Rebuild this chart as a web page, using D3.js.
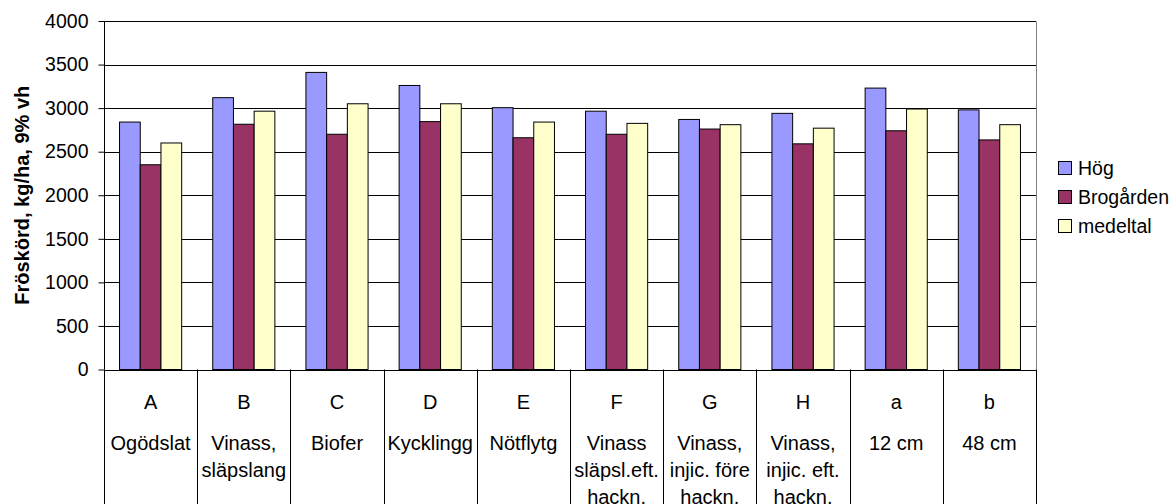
<!DOCTYPE html>
<html>
<head>
<meta charset="utf-8">
<script src="https://cdn.jsdelivr.net/npm/d3@7"></script>
<style>
  html, body { margin: 0; padding: 0; background: #fff; }
  svg { display: block; font-family: "Liberation Sans", Arial, sans-serif; }
</style>
</head>
<body>
<svg id="chart" width="1173" height="504"></svg>
<script>
// Treatment codes and their descriptions (one row per text line)
const codes = ["A", "B", "C", "D", "E", "F", "G", "H", "a", "b"];
const descriptions = [
  ["Ogödslat"],
  ["Vinass,", "släpslang"],
  ["Biofer"],
  ["Kycklingg"],
  ["Nötflytg"],
  ["Vinass", "släpsl.eft.", "hackn."],
  ["Vinass,", "injic. före", "hackn."],
  ["Vinass,", "injic. eft.", "hackn."],
  ["12 cm"],
  ["48 cm"]
];
const seriesNames = ["Hög", "Brogården", "medeltal"];
const hog       = [2840, 3120, 3410, 3260, 3005, 2965, 2870, 2940, 3230, 2980];
const brogarden = [2350, 2815, 2700, 2845, 2660, 2700, 2760, 2590, 2740, 2635];
const medeltal  = [2600, 2965, 3050, 3050, 2840, 2825, 2810, 2770, 2990, 2810];
const yTicks = [0, 500, 1000, 1500, 2000, 2500, 3000, 3500, 4000];
const colors = ["#9999FF", "#993366", "#FFFFCC"];
const yTitle = "Fröskörd, kg/ha, 9% vh";

const series = [hog, brogarden, medeltal];

const svg = d3.select("#chart");
const plot = { left: 104, right: 1036, top: 21, bottom: 369.5 };

const x = d3.scaleBand().domain(codes).range([plot.left, plot.right]).paddingInner(0).paddingOuter(0);
const y = d3.scaleLinear().domain([0, 4000]).range([plot.bottom, plot.top]);

// bar width: three bars plus a gap of 1.5 bar widths per category
const barW = x.bandwidth() / 4.5;
const inner = d3.scaleBand().domain(d3.range(3)).range([0.75 * barW, 3.75 * barW]).padding(0);

// gridlines
svg.append("g")
  .selectAll("line")
  .data(yTicks.filter(d => d > 0))
  .join("line")
  .attr("x1", plot.left).attr("x2", plot.right)
  .attr("y1", d => Math.round(y(d)) + 0.5).attr("y2", d => Math.round(y(d)) + 0.5)
  .attr("stroke", "#000").attr("stroke-width", 1);

// right border of the plot area
svg.append("line")
  .attr("x1", plot.right + 0.5).attr("x2", plot.right + 0.5)
  .attr("y1", Math.round(y(4000)) + 0.5).attr("y2", plot.bottom)
  .attr("stroke", "#808080");

// bars
const groups = svg.append("g").selectAll("g")
  .data(codes)
  .join("g")
  .attr("transform", d => `translate(${x(d)},0)`);

groups.selectAll("rect")
  .data((d, i) => series.map((s, k) => ({ k, v: s[i] })))
  .join("rect")
  .attr("x", d => inner(d.k))
  .attr("width", inner.bandwidth())
  .attr("y", d => y(d.v))
  .attr("height", d => y(0) - y(d.v))
  .attr("fill", d => colors[d.k])
  .attr("stroke", "#000")
  .attr("stroke-width", 1);

// y axis
const yAxis = d3.axisLeft(y).tickValues(yTicks).tickSize(6).tickPadding(10).tickFormat(d3.format("d"));
const gy = svg.append("g")
  .attr("transform", `translate(${plot.left + 0.5},0)`)
  .call(yAxis);
gy.select(".domain").attr("stroke", "#000").attr("d", `M0,${y(4000)}V${plot.bottom}`);
gy.selectAll(".tick line").attr("stroke", "#000");
gy.selectAll(".tick text").attr("font-size", 19.5).attr("fill", "#000")
  .attr("font-family", "'Liberation Sans', Arial, sans-serif");

// x axis baseline and category table lines
svg.append("line")
  .attr("x1", plot.left).attr("x2", plot.right)
  .attr("y1", Math.round(plot.bottom) + 0.5).attr("y2", Math.round(plot.bottom) + 0.5)
  .attr("stroke", "#000");

const bounds = codes.map(c => x(c)).concat([plot.right]);
svg.append("g").selectAll("line")
  .data(bounds)
  .join("line")
  .attr("x1", d => Math.round(d) + 0.5).attr("x2", d => Math.round(d) + 0.5)
  .attr("y1", plot.bottom).attr("y2", 504)
  .attr("stroke", "#000");

// category labels: code on top, description below
const labels = svg.append("g").attr("font-size", 20).attr("fill", "#000").attr("text-anchor", "middle");
codes.forEach((c, i) => {
  const cx = x(c) + x.bandwidth() / 2;
  labels.append("text").attr("x", cx).attr("y", 409).text(c);
  descriptions[i].forEach((line, j) => {
    labels.append("text").attr("x", cx).attr("y", 450 + j * 27).text(line);
  });
});

// y title
svg.append("text")
  .attr("transform", `translate(28.5,${(plot.top + plot.bottom) / 2}) rotate(-90)`)
  .attr("text-anchor", "middle")
  .attr("font-size", 20)
  .attr("font-weight", "bold")
  .text(yTitle);

// legend
const legend = svg.append("g").attr("transform", "translate(1058,161)");
seriesNames.forEach((name, k) => {
  const g = legend.append("g").attr("transform", `translate(0,${k * 29})`);
  g.append("rect").attr("x", 0.5).attr("y", 0.5).attr("width", 13).attr("height", 13)
    .attr("fill", colors[k]).attr("stroke", "#000");
  g.append("text").attr("x", 20).attr("y", 14).attr("font-size", 19.5).text(name);
});
</script>
</body>
</html>
